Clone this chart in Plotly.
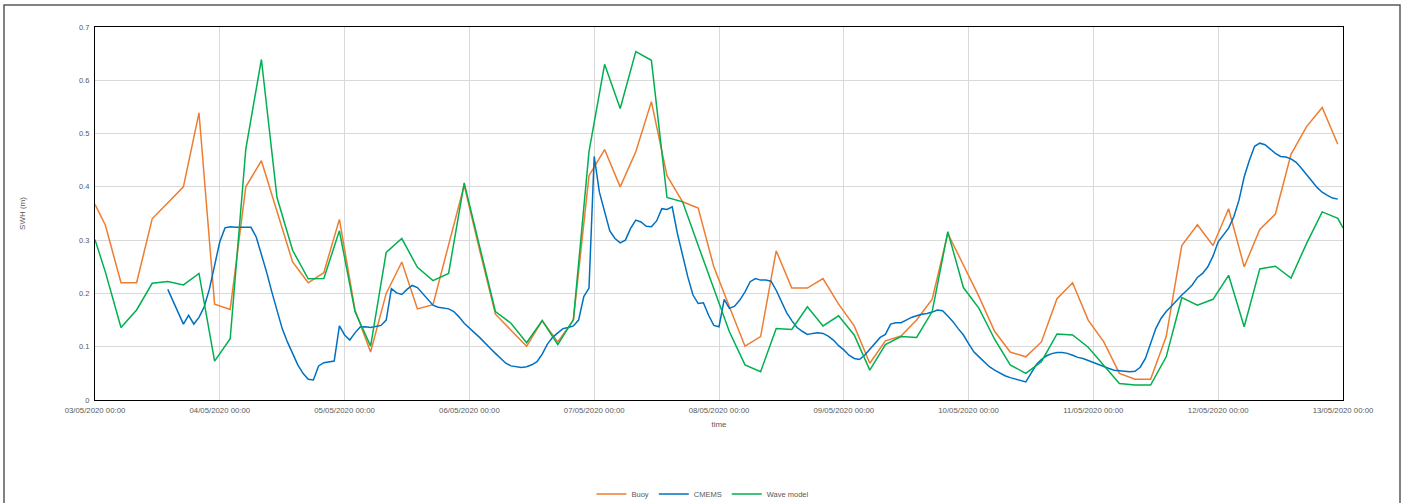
import pandas as pd
import plotly.graph_objects as go

# Significant wave height (m), 3-hourly buoy and wave-model series
# (first sample at 03/05 00:00, then every 3 h from 02:00)
buoy_swh = [
    0.367, 0.328, 0.22, 0.22, 0.34, 0.37, 0.40, 0.539, 0.18, 0.17,
    0.40, 0.449, 0.355, 0.259, 0.22, 0.239, 0.339, 0.169, 0.09, 0.20,
    0.259, 0.171, 0.179, 0.29, 0.403, 0.28, 0.161, 0.131, 0.101, 0.149,
    0.109, 0.15, 0.421, 0.47, 0.40, 0.466, 0.56, 0.421, 0.372, 0.36,
    0.25, 0.175, 0.101, 0.119, 0.28, 0.21, 0.21, 0.228, 0.18, 0.139,
    0.069, 0.111, 0.12, 0.15, 0.189, 0.3125, 0.254, 0.194, 0.129, 0.09,
    0.081, 0.109, 0.19, 0.22, 0.15, 0.109, 0.05, 0.039, 0.039, 0.119,
    0.29, 0.329, 0.29, 0.359, 0.25, 0.32, 0.349, 0.461, 0.513, 0.549,
    0.48,
]

wave_model_swh = [
    0.301, 0.24, 0.136, 0.169, 0.219, 0.2225, 0.216, 0.2375, 0.073, 0.115,
    0.471, 0.639, 0.38, 0.281, 0.2275, 0.228, 0.3175, 0.166, 0.101, 0.277,
    0.303, 0.249, 0.224, 0.2375, 0.4075, 0.285, 0.166, 0.144, 0.1075, 0.149,
    0.104, 0.151, 0.466, 0.63, 0.547, 0.654, 0.6375, 0.38, 0.372, 0.29,
    0.21, 0.128, 0.066, 0.053, 0.134, 0.1325, 0.175, 0.139, 0.158, 0.122,
    0.056, 0.104, 0.119, 0.1175, 0.166, 0.316, 0.211, 0.172, 0.114, 0.066,
    0.05, 0.072, 0.124, 0.122, 0.099, 0.066, 0.031, 0.028, 0.028, 0.081,
    0.192, 0.178, 0.189, 0.234, 0.1375, 0.246, 0.251, 0.229, 0.294, 0.353,
    0.341, 0.323,
]

# Hourly CMEMS series starting 03/05/2020 14:00
cmems_swh = [
    0.2075, 0.186, 0.164, 0.1425, 0.159, 0.1425, 0.155, 0.175, 0.208, 0.25,
    0.297, 0.323, 0.325, 0.324, 0.324, 0.324, 0.324, 0.306, 0.275, 0.24,
    0.203, 0.169, 0.134, 0.109, 0.086, 0.066, 0.05, 0.039, 0.0375, 0.064,
    0.07, 0.072, 0.073, 0.139, 0.122, 0.1125, 0.126, 0.137, 0.1375, 0.136,
    0.1375, 0.14, 0.15, 0.209, 0.201, 0.198, 0.2075, 0.215, 0.211, 0.20,
    0.189, 0.178, 0.174, 0.172, 0.171, 0.166, 0.156, 0.144, 0.134, 0.126,
    0.117, 0.106, 0.097, 0.0875, 0.079, 0.069, 0.064, 0.0625, 0.061, 0.0625,
    0.066, 0.072, 0.086, 0.105, 0.1175, 0.126, 0.134, 0.136, 0.139, 0.15,
    0.194, 0.21, 0.457, 0.39, 0.356, 0.3175, 0.303, 0.295, 0.30, 0.322,
    0.3375, 0.334, 0.326, 0.325, 0.336, 0.359, 0.3575, 0.3625, 0.3125, 0.269,
    0.231, 0.197, 0.181, 0.1825, 0.159, 0.14, 0.1375, 0.189, 0.172, 0.176,
    0.1875, 0.203, 0.222, 0.228, 0.225, 0.225, 0.223, 0.206, 0.184, 0.164,
    0.149, 0.136, 0.129, 0.123, 0.125, 0.126, 0.125, 0.12, 0.1125, 0.102,
    0.094, 0.084, 0.078, 0.076, 0.084, 0.095, 0.106, 0.1175, 0.123, 0.1425,
    0.145, 0.145, 0.15, 0.155, 0.158, 0.161, 0.1625, 0.165, 0.169, 0.1675,
    0.1575, 0.147, 0.134, 0.122, 0.106, 0.0905, 0.081, 0.072, 0.0625, 0.056,
    0.05, 0.0456, 0.042, 0.039, 0.036, 0.034, 0.05, 0.066, 0.076, 0.083,
    0.087, 0.089, 0.089, 0.0875, 0.084, 0.08, 0.078, 0.074, 0.07, 0.067,
    0.0625, 0.059, 0.056, 0.055, 0.054, 0.053, 0.054, 0.0615, 0.078, 0.107,
    0.134, 0.153, 0.166, 0.176, 0.1875, 0.197, 0.206, 0.216, 0.23, 0.2375,
    0.25, 0.27, 0.297, 0.309, 0.3225, 0.344, 0.375, 0.419, 0.45, 0.476,
    0.482, 0.479, 0.471, 0.463, 0.457, 0.456, 0.4525, 0.446, 0.435, 0.424,
    0.411, 0.399, 0.39, 0.384, 0.379, 0.377,
]

day_ticks = pd.date_range("2020-05-03", "2020-05-13", freq="D")
tick_labels = [d.strftime("%d/%m/%Y %H:%M") for d in day_ticks]

start = pd.Timestamp("2020-05-03 00:00")
buoy_time = [start] + list(pd.date_range("2020-05-03 02:00", periods=len(buoy_swh) - 1, freq="3h"))
model_time = [start] + list(pd.date_range("2020-05-03 02:00", periods=len(wave_model_swh) - 2, freq="3h")) \
    + [pd.Timestamp("2020-05-13 00:00")]
cmems_time = pd.date_range("2020-05-03 14:00", periods=len(cmems_swh), freq="h")

FONT = "Liberation Sans"
TXT = "#595959"
W, H = 1408, 503

fig = go.Figure()
fig.add_trace(go.Scatter(x=buoy_time, y=buoy_swh, mode="lines", name="Buoy",
                         line=dict(color="#ED7D31", width=1.5)))
fig.add_trace(go.Scatter(x=cmems_time, y=cmems_swh, mode="lines", name="CMEMS",
                         line=dict(color="#0070C0", width=1.5)))
fig.add_trace(go.Scatter(x=model_time, y=wave_model_swh, mode="lines", name="Wave model",
                         line=dict(color="#00B050", width=1.5)))

# plot area spans x 95..1343, y 27..400 px
def px_x(p):
    return (p - 95) / 1248

def px_y(p):
    return (400 - p) / 373

# outer chart frame
fig.add_shape(type="rect", xref="paper", yref="paper",
              x0=px_x(4), x1=px_x(1400), y0=px_y(520), y1=px_y(5),
              line=dict(color="#595959", width=1.5), fillcolor="rgba(0,0,0,0)", layer="below")

fig.update_layout(
    width=W, height=H,
    margin=dict(l=95, r=65, t=27, b=103),
    paper_bgcolor="white", plot_bgcolor="white",
    font=dict(family=FONT, size=7.5, color=TXT),
    showlegend=True,
    legend=dict(orientation="h", xref="container", x=703 / W, xanchor="center",
                yref="container", y=(H - 494) / H, yanchor="middle",
                font=dict(family=FONT, size=7.5, color=TXT), itemwidth=30,
                bgcolor="rgba(0,0,0,0)", tracegroupgap=0),
    xaxis=dict(
        type="date",
        range=[day_ticks[0], day_ticks[-1]],
        tickvals=list(day_ticks), ticktext=tick_labels,
        showgrid=True, gridcolor="#D9D9D9", gridwidth=1,
        showline=True, linecolor="black", linewidth=1.2, mirror=True,
        ticks="outside", ticklen=3, tickcolor="rgba(0,0,0,0)",
        tickfont=dict(family=FONT, size=7.8, color=TXT),
        title=dict(text="time", font=dict(family=FONT, size=8, color=TXT), standoff=6),
        zeroline=False, automargin=False,
    ),
    yaxis=dict(
        range=[0, 0.7], dtick=0.1, tick0=0,
        showgrid=True, gridcolor="#D9D9D9", gridwidth=1,
        showline=True, linecolor="black", linewidth=1.2, mirror=True,
        ticks="outside", ticklen=3, tickcolor="rgba(0,0,0,0)",
        tickfont=dict(family=FONT, size=7.5, color=TXT),
        title=dict(text="SWH (m)", font=dict(family=FONT, size=8, color=TXT), standoff=52),
        zeroline=False, automargin=False,
    ),
)

fig.write_html("out.html")
